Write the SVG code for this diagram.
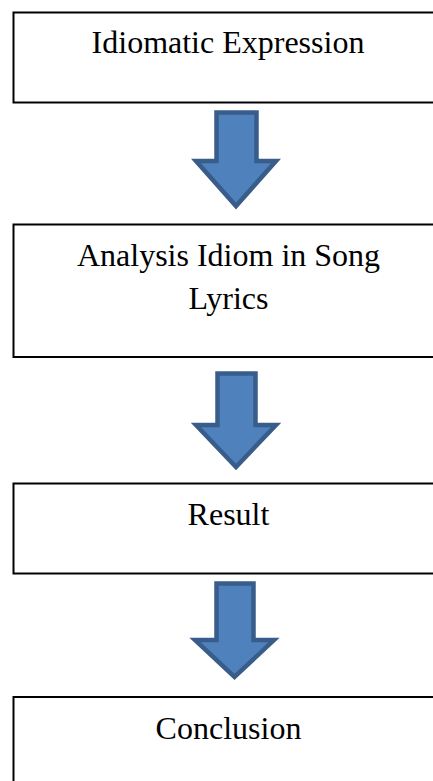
<svg xmlns="http://www.w3.org/2000/svg" width="433" height="781" viewBox="0 0 433 781">
<style>
.box{fill:#fff;stroke:#000;stroke-width:2}
.lbl{font-family:"Liberation Serif","Times New Roman",serif;font-size:32px;fill:#000;text-anchor:middle}
.arr{fill:#4F81BD;stroke:#385D8A;stroke-width:4.5;stroke-linejoin:miter}
</style>
<rect width="433" height="781" fill="#fff"/>
<g id="connectors">
<path class="arr" d="M216.5,112.5 H256.5 V161 H276 L236,206 L196,161 H216.5 Z"/>
<path class="arr" d="M217.5,373.5 H255.5 V425 H276 L236,467 L196,425 H217.5 Z"/>
<path class="arr" d="M216.5,583.5 H253.5 V640 H274 L234.5,677 L195,640 H216.5 Z"/>
</g>
<g id="node1">
<rect class="box" x="13.5" y="12.5" width="430" height="90"/>
<text class="lbl" x="228" y="53">Idiomatic Expression</text>
</g>
<g id="node2">
<rect class="box" x="13.5" y="224.5" width="430" height="132.5"/>
<text class="lbl" x="228.5" y="266">Analysis Idiom in Song</text>
<text class="lbl" x="228.5" y="309">Lyrics</text>
</g>
<g id="node3">
<rect class="box" x="13.5" y="483.5" width="430" height="90"/>
<text class="lbl" x="228.5" y="525">Result</text>
</g>
<g id="node4">
<rect class="box" x="13.5" y="697" width="430" height="100"/>
<text class="lbl" x="228.5" y="739">Conclusion</text>
</g>
</svg>
